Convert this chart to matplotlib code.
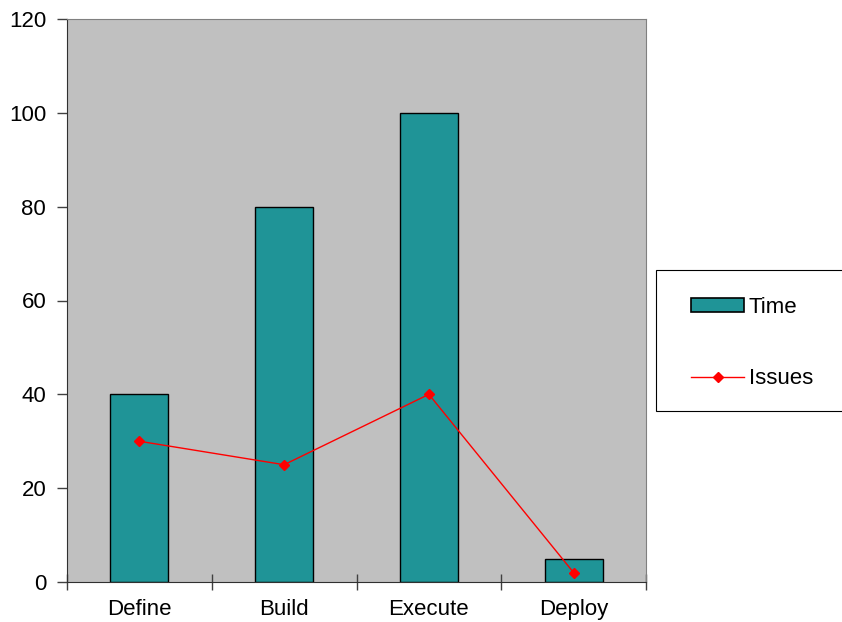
import numpy as np
import matplotlib.pyplot as plt
from matplotlib.lines import Line2D
from matplotlib.patches import Patch, Rectangle

plt.rcParams["font.family"] = ["Liberation Sans", "DejaVu Sans"]

categories = ["Define", "Build", "Execute", "Deploy"]
time_values = [40, 80, 100, 5]
issue_values = [30, 25, 40, 2]
y_ticks = [0, 20, 40, 60, 80, 100, 120]

bar_color = "#1F9497"
line_color = "#FF0000"

W, H = 842, 622
fig = plt.figure(figsize=(W / 100, H / 100), dpi=100)
ax = fig.add_axes([67 / W, 40 / H, (646 - 67) / W, (582 - 19) / H])
ax.set_facecolor("#C0C0C0")

x = np.arange(len(categories))
ax.bar(x, time_values, width=0.4, color=bar_color, edgecolor="black", linewidth=1, zorder=2)
ax.plot(x, issue_values, color=line_color, linewidth=1, marker="D", markersize=5.5, zorder=3)

ax.set_xlim(-0.5, len(categories) - 0.5)
ax.set_ylim(0, 120)
ax.set_yticks(y_ticks)
ax.set_yticklabels([str(v) for v in y_ticks], fontsize=16)

ax.set_xticks(x)
ax.set_xticklabels(categories, fontsize=16)
ax.tick_params(axis="x", length=0, pad=12)
ax.set_xticks(np.arange(len(categories) + 1) - 0.5, minor=True)
ax.tick_params(axis="x", which="minor", direction="inout", length=12, width=1, color="#404040")
ax.tick_params(axis="y", direction="out", length=7, width=1, color="#404040", pad=8)

for side in ["top", "right"]:
    ax.spines[side].set_color("#808080")
for side in ["left", "bottom"]:
    ax.spines[side].set_color("#303030")

# legend box runs off the right edge of the figure
fig.patches.append(Rectangle((656 / W, 1 - 411 / H), (W + 10 - 656) / W, (411 - 270) / H,
                             transform=fig.transFigure, facecolor="white",
                             edgecolor="black", linewidth=0.8))

handles = [
    Patch(facecolor=bar_color, edgecolor="black", linewidth=1.2),
    Line2D([0], [0], color=line_color, linewidth=1, marker="D", markersize=5.5),
]
fig.legend(handles, ["Time", "Issues"], loc="center left",
           bbox_to_anchor=(691 / W, 1 - 343 / H), fontsize=16,
           frameon=False, borderpad=0, labelspacing=2.25,
           handlelength=2.4, handleheight=0.6, handletextpad=0.2, borderaxespad=0)

fig.savefig("out.png", dpi=100)
